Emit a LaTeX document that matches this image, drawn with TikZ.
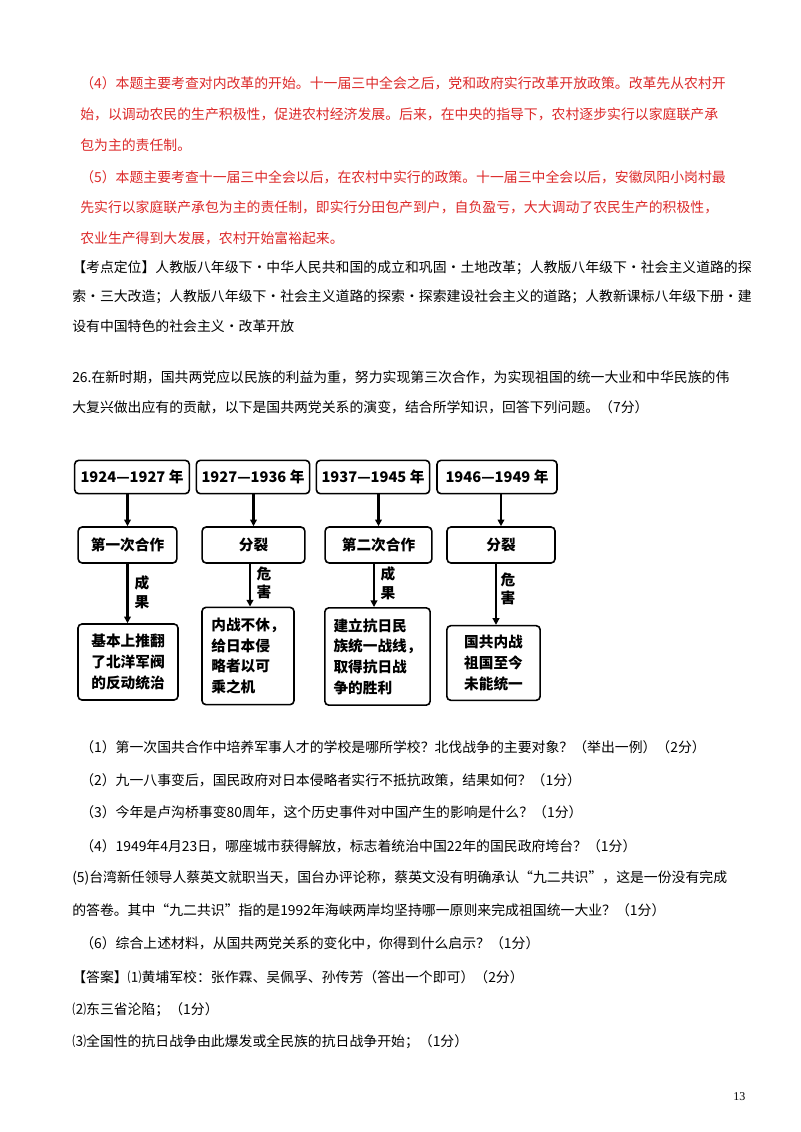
\documentclass[tikz,border=0pt]{standalone}
\usepackage{fontspec}
\setmainfont{Liberation Serif}
\newfontfamily\cjk{Noto Sans CJK SC}
\usetikzlibrary{arrows.meta}
\definecolor{redtxt}{RGB}{220,40,40}
\tikzset{
 ln/.style={anchor=west,inner sep=0pt,font=\cjk\fontsize{10.4}{12}\selectfont},
 rln/.style={ln,text=redtxt},
 bx/.style={draw,line width=1.2pt,rounded corners=3pt,font=\cjk\bfseries\fontsize{11}{12}\selectfont,inner sep=0pt},
 bt/.style={bx,align=left,font=\cjk\bfseries\fontsize{11}{15.5}\selectfont},
 ar/.style={line width=1.8pt,-{Triangle[length=5pt,width=5pt]}},
 lb/.style={font=\cjk\bfseries\fontsize{11}{14}\selectfont,align=center,anchor=west,inner sep=1pt}
}
\begin{document}
\begin{tikzpicture}[x=0.75pt,y=-0.75pt]
\useasboundingbox (0,0) rectangle (800,1132);
\node[rln] (r1) at (80,83) {（4）本题主要考查对内改革的开始。十一届三中全会之后，党和政府实行改革开放政策。改革先从农村开};
\node[rln] (r2) at (80,114) {始，以调动农民的生产积极性，促进农村经济发展。后来，在中央的指导下，农村逐步实行以家庭联产承};
\node[rln] (r3) at (80,145) {包为主的责任制。};
\node[rln] (r4) at (80,177) {（5）本题主要考查十一届三中全会以后，在农村中实行的政策。十一届三中全会以后，安徽凤阳小岗村最};
\node[rln] (r5) at (80,207) {先实行以家庭联产承包为主的责任制，即实行分田包产到户，自负盈亏，大大调动了农民生产的积极性，};
\node[rln] (r6) at (80,238) {农业生产得到大发展，农村开始富裕起来。};
\node[ln] (b1) at (72,268) {【考点定位】人教版八年级下•中华人民共和国的成立和巩固•土地改革；人教版八年级下•社会主义道路的探};
\node[ln] (b2) at (72,297) {索•三大改造；人教版八年级下•社会主义道路的探索•探索建设社会主义的道路；人教新课标八年级下册•建};
\node[ln] (b3) at (72,326) {设有中国特色的社会主义•改革开放};
\node[ln] (b4) at (72,377) {26.在新时期，国共两党应以民族的利益为重，努力实现第三次合作，为实现祖国的统一大业和中华民族的伟};
\node[ln] (b5) at (72,407) {大复兴做出应有的贡献，以下是国共两党关系的演变，结合所学知识，回答下列问题。（7分）};
% diagram
\node[bx,minimum width=86pt,minimum height=25pt] (t1) at (132,477) {1924—1927 年};
\node[bx,minimum width=85pt,minimum height=25pt] (t2) at (253,477) {1927—1936 年};
\node[bx,minimum width=85pt,minimum height=25pt] (t3) at (373,477) {1937—1945 年};
\node[bx,minimum width=90pt,minimum height=25pt] (t4) at (497,477) {1946—1949 年};
\node[bx,minimum width=74pt,minimum height=27pt] (m1) at (127.5,545) {第一次合作};
\node[bx,minimum width=77pt,minimum height=27pt] (m2) at (253.5,545) {分裂};
\node[bx,minimum width=80pt,minimum height=27pt] (m3) at (378.5,545) {第二次合作};
\node[bx,minimum width=81pt,minimum height=27pt] (m4) at (501,545) {分裂};
\node[bt,minimum width=75pt,minimum height=57pt] (e1) at (128,662) {基本上推翻\\了北洋军阀\\的反动统治};
\node[bt,minimum width=69pt,minimum height=73pt] (e2) at (248,656) {内战不休，\\给日本侵\\略者以可\\乘之机};
\node[bt,minimum width=79pt,minimum height=73pt] (e3) at (377.5,656.5) {建立抗日民\\族统一战线，\\取得抗日战\\争的胜利};
\node[bt,minimum width=70pt,minimum height=56pt] (e4) at (493.5,663) {国共内战\\祖国至今\\未能统一};
\foreach \i in {1,2,3,4}{\draw[ar] (t\i.south -| m\i.north) -- (m\i.north);}
\draw[ar] (m1.south) -- (m1.south|-e1.north);
\draw[ar] (250,563) -- (e2.north -| 250,0);
\draw[ar] (m3.south -| 374,0) -- (e3.north -| 374,0);
\draw[ar] (m4.south -| 496,0) -- (e4.north -| 496,0);
\node[lb] (l1) at (133,592) {成\\果};
\node[lb] (l2) at (255,583) {危\\害};
\node[lb] (l3) at (379,583) {成\\果};
\node[lb] (l4) at (499,589) {危\\害};
\node[ln] (q1) at (80,747) {（1）第一次国共合作中培养军事人才的学校是哪所学校？北伐战争的主要对象？（举出一例）（2分）};
\node[ln] (q2) at (80,780) {（2）九一八事变后，国民政府对日本侵略者实行不抵抗政策，结果如何？（1分）};
\node[ln] (q3) at (80,812) {（3）今年是卢沟桥事变80周年，这个历史事件对中国产生的影响是什么？（1分）};
\node[ln] (q4) at (80,846) {（4）1949年4月23日，哪座城市获得解放，标志着统治中国22年的国民政府垮台？（1分）};
\node[ln] (q5) at (72,878) {(5)台湾新任领导人蔡英文就职当天，国台办评论称，蔡英文没有明确承认“九二共识”，这是一份没有完成};
\node[ln] (q6) at (72,910) {的答卷。其中“九二共识”指的是1992年海峡两岸均坚持哪一原则来完成祖国统一大业？（1分）};
\node[ln] (q7) at (80,943) {（6）综合上述材料，从国共两党关系的变化中，你得到什么启示？（1分）};
\node[ln] (a1) at (72,977) {【答案】⑴黄埔军校：张作霖、吴佩孚、孙传芳（答出一个即可）（2分）};
\node[ln] (a2) at (72,1010) {⑵东三省沦陷；（1分）};
\node[ln] (a3) at (72,1042) {⑶全国性的抗日战争由此爆发或全民族的抗日战争开始；（1分）};
\node[ln,font=\fontsize{9}{10}\selectfont] (pg) at (733,1097) {13};
\end{tikzpicture}
\end{document}
